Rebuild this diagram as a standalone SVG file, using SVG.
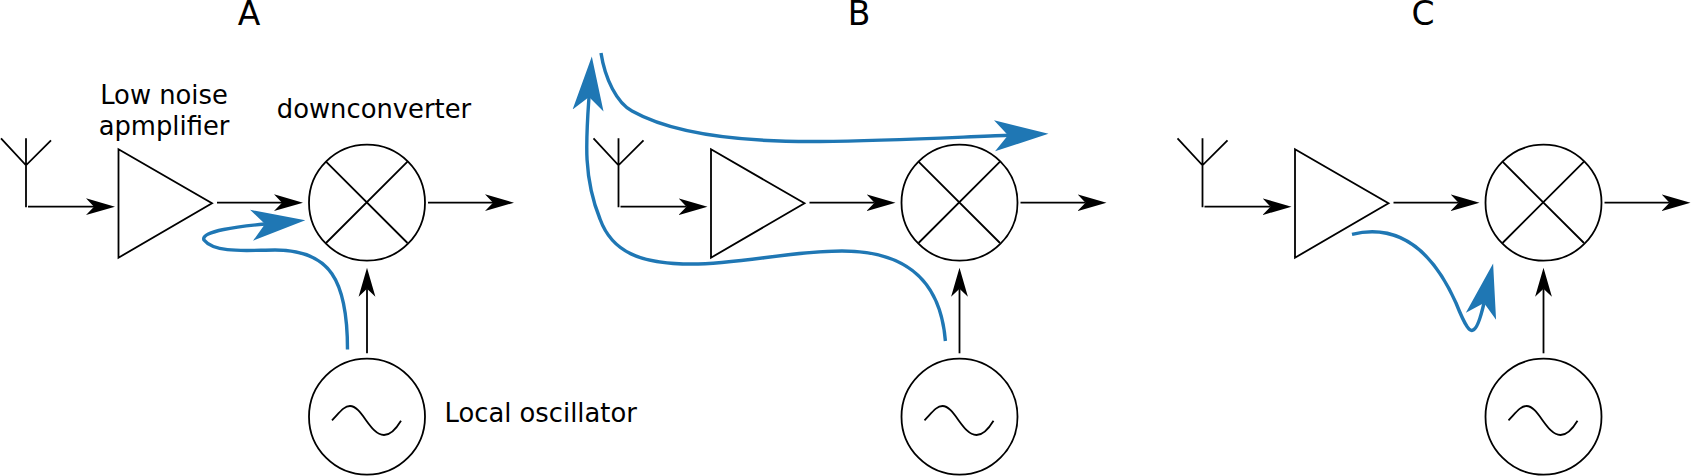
<svg xmlns="http://www.w3.org/2000/svg" xmlns:xlink="http://www.w3.org/1999/xlink" width="1692" height="476" viewBox="0 0 1692 476">
<style>
text{font-family:"DejaVu Sans",sans-serif;fill:#000}
.lbl{font-size:25.8px}
.ttl{font-size:33px}
.m{text-anchor:middle}
.s{fill:none;stroke:#000;stroke-width:1.8}
.k{fill:none;stroke:#000;stroke-width:1.8;marker-end:url(#ah)}
.b{fill:none;stroke:#1f77b4;stroke-width:3.4;marker-end:url(#bh)}
</style>
<defs>
<marker id="ah" markerUnits="userSpaceOnUse" markerWidth="30" markerHeight="20" viewBox="0 -10 30 20" refX="8" refY="0" orient="auto"><path d="M0,-8.4L29,0L0,8.4L8,0Z" fill="#000"/></marker>
<marker id="bh" markerUnits="userSpaceOnUse" markerWidth="60" markerHeight="40" viewBox="0 -20 60 40" refX="13.5" refY="0" orient="auto"><path d="M0,-15.5L54,0L0,15.5L13.5,0Z" fill="#1f77b4"/></marker>
<g id="antenna"><path class="s" d="M26,138.3V207.3M1,138.3L26,165.3L51,140.3"/></g>
<path id="amp" class="s" d="M118.5,149.3L212,203.3L118.5,257.7Z"/>
<g id="mixer"><circle class="s" cx="367" cy="202.7" r="58"/><path class="s" d="M326,161.7L407.5,243M326,243L407.5,161.7"/></g>
<g id="osc"><circle class="s" cx="367" cy="416.7" r="58"/><path class="s" d="M332,420.3C340,412 344,406 350,406C362,406 370,435 384,435C390,435 396,429 401,420.7"/></g>
</defs>
<text class="ttl m" x="249" y="25">A</text>
<text class="ttl m" x="859" y="25">B</text>
<text class="ttl m" x="1423" y="25">C</text>
<g id="label-lna"><text class="lbl m" x="164" y="104.3">Low noise</text><text class="lbl m" x="164" y="135.3">apmplifier</text></g>
<text id="label-down" class="lbl m" x="374" y="118.3">downconverter</text>
<text id="label-lo" class="lbl" x="444.5" y="422">Local oscillator</text>

<g id="node-a-antenna"><use xlink:href="#antenna"/></g>
<g id="node-a-amplifier"><use xlink:href="#amp"/></g>
<g id="node-a-mixer"><use xlink:href="#mixer"/></g>
<g id="node-a-oscillator"><use xlink:href="#osc"/></g>
<g id="node-b-antenna" transform="translate(592.5 0)"><use xlink:href="#antenna"/></g>
<g id="node-b-amplifier" transform="translate(592.5 0)"><use xlink:href="#amp"/></g>
<g id="node-b-mixer" transform="translate(592.5 0)"><use xlink:href="#mixer"/></g>
<g id="node-b-oscillator" transform="translate(592.5 0)"><use xlink:href="#osc"/></g>
<g id="node-c-antenna" transform="translate(1176.5 0)"><use xlink:href="#antenna"/></g>
<g id="node-c-amplifier" transform="translate(1176.5 0)"><use xlink:href="#amp"/></g>
<g id="node-c-mixer" transform="translate(1176.5 0)"><use xlink:href="#mixer"/></g>
<g id="node-c-oscillator" transform="translate(1176.5 0)"><use xlink:href="#osc"/></g>

<g id="connectors">
<path class="k" d="M28,206.7H94"/><path class="k" d="M217,202.7H282"/><path class="k" d="M428,202.7H493"/><path class="k" d="M367,353.3V288.7"/>
<path class="k" d="M620.5,206.7H686.5"/><path class="k" d="M809.5,202.7H874.5"/><path class="k" d="M1020.5,202.7H1085.5"/><path class="k" d="M959.5,353.3V288.7"/>
<path class="k" d="M1204.5,206.7H1270.5"/><path class="k" d="M1393.5,202.7H1458.5"/><path class="k" d="M1604.5,202.7H1669.5"/><path class="k" d="M1543.5,353.3V288.7"/>
<path class="b" d="M347.5,349.5C347.5,280 330,250 275,250C250,250 215,254 204,240C200,231 240,226.4 265,224"/>
<path class="b" d="M945.4,341C940,275 900,251 842,251C790,251 740,264 692,264C640,264 612,252 600,219C583,177 586,140 589,97"/>
<path class="b" d="M601,53C605,79 617,103 632,111C680,138 760,142 820,141.5C890,141 960,137 1008,135.3"/>
<path class="b" d="M1352,234.3C1395,224 1430,245 1456,303C1466,328 1470,332 1473,330C1477,329 1481,316 1484,303"/>
</g>
</svg>
